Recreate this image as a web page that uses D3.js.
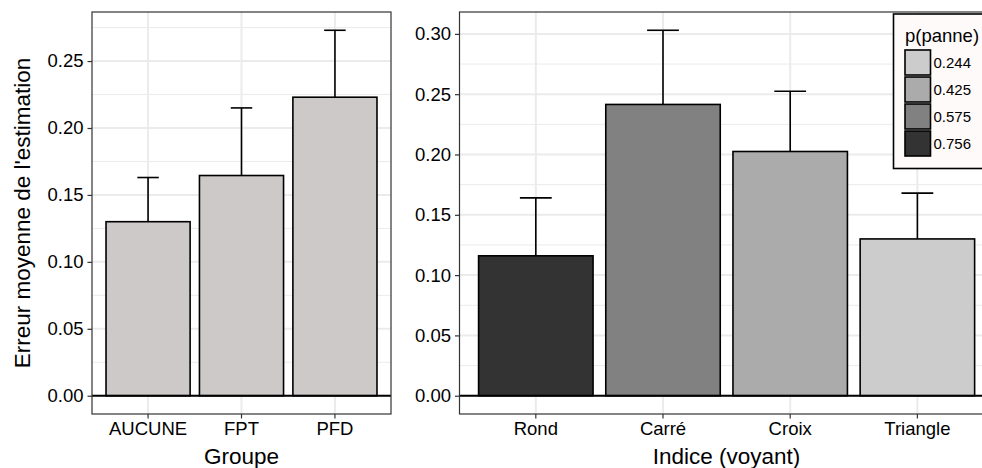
<!DOCTYPE html>
<html>
<head>
<meta charset="utf-8">
<script src="https://cdn.jsdelivr.net/npm/d3@7/dist/d3.min.js"></script>
<style>
  html, body { margin: 0; padding: 0; background: #fff; }
  svg { display: block; font-family: "Liberation Sans", Arial, sans-serif; }
</style>
</head>
<body>
<svg id="chart" width="982" height="468"></svg>
<script>
// Panel 1: mean estimation error by group
const groupCats = ["AUCUNE", "FPT", "PFD"];
const groupMeans = [0.130, 0.1645, 0.223];
const groupUpper = [0.163, 0.215, 0.273];
const groupTicks = [0.00, 0.05, 0.10, 0.15, 0.20, 0.25];

// Panel 2: mean estimation error by warning-light cue
const cueCats = ["Rond", "Carré", "Croix", "Triangle"];
const cueMeans = [0.116, 0.2415, 0.2025, 0.130];
const cueUpper = [0.164, 0.303, 0.2525, 0.168];
const cueProb = ["0.756", "0.575", "0.425", "0.244"];
const cueTicks = [0.00, 0.05, 0.10, 0.15, 0.20, 0.25, 0.30];

// Fill legend: p(panne)
const probLevels = ["0.244", "0.425", "0.575", "0.756"];
const probGreys = ["#CCCCCC", "#ABABAB", "#818181", "#333333"];

const svg = d3.select("#chart");
const panelTop = 12, panelBottom = 414;

const fillScale = d3.scaleOrdinal().domain(probLevels).range(probGreys);

function panel(opts) {
  const { cats, means, upper, ticks, x0, x1, fills, capFrac, xTitle } = opts;
  const g = svg.append("g");
  const ymax = d3.max(upper);
  const pad = ymax * 0.05;
  const y = d3.scaleLinear().domain([-pad, ymax + pad]).range([panelBottom, panelTop]);
  const x = d3.scaleBand().domain(cats).range([x0, x1]).paddingInner(0.1).paddingOuter(0.15);
  const step = x.step();

  // grid
  const minor = d3.range(ticks.length - 1).map(i => (ticks[i] + ticks[i + 1]) / 2);
  if (ticks[ticks.length - 1] + 0.025 < ymax + pad) minor.push(ticks[ticks.length - 1] + 0.025);
  g.selectAll(".ming").data(minor).join("line")
    .attr("x1", x0).attr("x2", x1).attr("y1", d => y(d)).attr("y2", d => y(d))
    .attr("stroke", "#EBEBEB").attr("stroke-width", 1);
  g.selectAll(".majg").data(ticks).join("line")
    .attr("x1", x0).attr("x2", x1).attr("y1", d => y(d)).attr("y2", d => y(d))
    .attr("stroke", "#EBEBEB").attr("stroke-width", 2);
  g.selectAll(".vg").data(cats).join("line")
    .attr("x1", d => x(d) + x.bandwidth() / 2).attr("x2", d => x(d) + x.bandwidth() / 2)
    .attr("y1", panelTop).attr("y2", panelBottom)
    .attr("stroke", "#EBEBEB").attr("stroke-width", 2);

  // error bars (upper half visible above bars)
  const capW = step * capFrac;
  const eb = g.selectAll(".eb").data(cats).join("g");
  eb.append("line")
    .attr("x1", d => x(d) + x.bandwidth() / 2).attr("x2", d => x(d) + x.bandwidth() / 2)
    .attr("y1", (d, i) => y(upper[i])).attr("y2", (d, i) => y(means[i]))
    .attr("stroke", "#000").attr("stroke-width", 1.6);
  eb.append("line")
    .attr("x1", d => x(d) + x.bandwidth() / 2 - capW / 2).attr("x2", d => x(d) + x.bandwidth() / 2 + capW / 2)
    .attr("y1", (d, i) => y(upper[i])).attr("y2", (d, i) => y(upper[i]))
    .attr("stroke", "#000").attr("stroke-width", 1.6);

  // bars
  g.selectAll(".bar").data(cats).join("rect")
    .attr("x", d => x(d)).attr("width", x.bandwidth())
    .attr("y", (d, i) => y(means[i])).attr("height", (d, i) => y(0) - y(means[i]))
    .attr("fill", (d, i) => fills[i]).attr("stroke", "#000").attr("stroke-width", 1.6);

  // zero line
  g.append("line").attr("x1", x0).attr("x2", x1).attr("y1", y(0)).attr("y2", y(0))
    .attr("stroke", "#000").attr("stroke-width", 1.8);

  // panel border
  g.append("rect").attr("x", x0).attr("y", panelTop).attr("width", x1 - x0).attr("height", panelBottom - panelTop)
    .attr("fill", "none").attr("stroke", "#333333").attr("stroke-width", 1.2);

  // axes
  const ya = g.append("g").attr("transform", `translate(${x0},0)`)
    .call(d3.axisLeft(y).tickValues(ticks).tickFormat(d3.format(".2f")).tickSize(4.5).tickPadding(4));
  const xa = g.append("g").attr("transform", `translate(0,${panelBottom})`)
    .call(d3.axisBottom(x).tickSize(4.5).tickPadding(3));
  [ya, xa].forEach(a => {
    a.select(".domain").remove();
    a.selectAll(".tick line").attr("stroke", "#333333").attr("stroke-width", 1.2);
    a.selectAll(".tick text").attr("fill", "#000").style("font-size", "18.5px");
  });

  g.append("text").attr("x", (x0 + x1) / 2).attr("y", 464)
    .attr("text-anchor", "middle").style("font-size", "22.5px").text(xTitle);
  return g;
}

panel({
  cats: groupCats, means: groupMeans, upper: groupUpper, ticks: groupTicks,
  x0: 92, x1: 391, fills: groupCats.map(() => "#CDC9C9"), capFrac: 0.23, xTitle: "Groupe"
});

panel({
  cats: cueCats, means: cueMeans, upper: cueUpper, ticks: cueTicks,
  x0: 459.5, x1: 993.7, fills: cueProb.map(p => fillScale(p)), capFrac: 0.25, xTitle: "Indice (voyant)"
});

// y-axis title
svg.append("text")
  .attr("transform", `translate(30,${(panelTop + panelBottom) / 2}) rotate(-90)`)
  .attr("text-anchor", "middle").style("font-size", "22.5px")
  .text("Erreur moyenne de l'estimation");

// legend
const lg = svg.append("g").attr("transform", "translate(893.5,14)");
lg.append("rect").attr("width", 110).attr("height", 154.5)
  .attr("fill", "#FFFAFA").attr("stroke", "#000").attr("stroke-width", 1.6);
lg.append("text").attr("x", 11.5).attr("y", 27.5).style("font-size", "18.5px").text("p(panne)");
const items = lg.selectAll(".it").data(probLevels).join("g")
  .attr("transform", (d, i) => `translate(11.5,${36 + i * 27})`);
items.append("rect").attr("width", 25.5).attr("height", 25)
  .attr("fill", d => fillScale(d)).attr("stroke", "#000").attr("stroke-width", 1.6);
items.append("text").attr("x", 28.5).attr("y", 12.5).attr("dy", "0.36em")
  .style("font-size", "15px").text(d => d);
</script>
</body>
</html>
